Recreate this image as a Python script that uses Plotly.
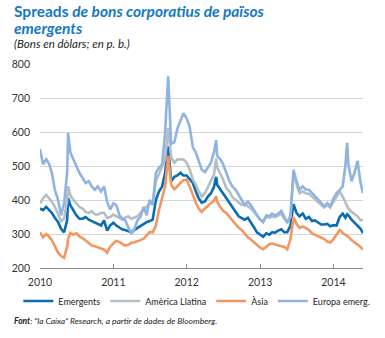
import plotly.graph_objects as go

# ---------------- data ----------------
base_dates = [f"{y}-{mo:02d}-{d:02d}" for y in range(2010, 2015)
              for mo in range(1, 13) for d in (1, 16)]
base_dates = [d for d in base_dates if d <= "2014-05-16"]
extra_dates = ["2010-05-21", "2012-05-27", "2014-03-10", "2014-05-28"]
dates = sorted(base_dates + extra_dates)

emergents = [
    375, 370, 380, 370, 362, 348, 335, 315, 305, 340, 406, 385, 368, 355, 345, 345, 350, 342, 338, 333, 328, 325, 340, 310, 325,
    333, 325, 318, 313, 312, 308, 305, 312, 318, 325, 330, 335, 338, 342, 400, 425, 440, 480, 558, 455, 468, 472, 480, 472,
    472, 462, 450, 425, 405, 392, 396, 410, 420, 438, 468, 445, 432, 420, 405, 392, 380, 367, 352, 347, 342, 348, 335, 320, 305,
    298, 292, 302, 298, 305, 304, 310, 314, 305, 305, 325, 388, 362, 352, 360, 345, 350, 338, 340, 335, 328, 328, 330, 323,
    326, 325, 350, 360, 348, 358, 355, 342, 332, 325, 315, 303,
]
america_llatina = [
    390, 405, 415, 405, 395, 380, 360, 338, 345, 400, 440, 415, 400, 390, 380, 375, 365, 362, 367, 358, 357, 362, 362, 347, 350,
    357, 352, 348, 342, 348, 352, 345, 348, 352, 362, 370, 380, 390, 392, 455, 475, 495, 520, 612, 525, 510, 519, 520, 519,
    510, 490, 460, 445, 425, 410, 420, 440, 460, 475, 522, 495, 478, 460, 435, 425, 408, 400, 392, 385, 388, 382, 375, 365, 352,
    342, 338, 350, 348, 352, 350, 355, 360, 345, 335, 350, 480, 445, 420, 425, 420, 418, 410, 402, 395, 385, 378, 385, 378,
    395, 410, 425, 410, 395, 385, 375, 365, 358, 352, 340, 343,
]
asia = [
    305, 290, 300, 292, 282, 262, 245, 235, 230, 262, 285, 303, 298, 302, 293, 288, 280, 272, 266, 264, 260, 256, 254, 245, 262,
    272, 280, 276, 270, 266, 268, 274, 276, 278, 282, 286, 295, 306, 305, 325, 370, 410, 440, 530, 445, 432, 442, 450, 458,
    460, 440, 412, 392, 375, 365, 375, 382, 390, 398, 411, 395, 380, 368, 362, 350, 342, 328, 318, 312, 300, 290, 284, 276, 270,
    260, 255, 262, 270, 272, 270, 268, 266, 262, 255, 285, 350, 330, 318, 322, 318, 312, 302, 298, 293, 288, 285, 278, 275,
    285, 298, 312, 303, 298, 296, 292, 282, 275, 270, 262, 254,
]
europa_emerg = [
    550, 505, 520, 505, 480, 430, 400, 355, 390, 480, 597, 540, 520, 500, 480, 465, 450, 455, 440, 430, 440, 425, 440, 395, 372,
    390, 385, 355, 345, 340, 320, 300, 315, 340, 350, 380, 355, 400, 385, 480, 495, 505, 600, 764, 565, 570, 610, 635, 655,
    640, 615, 555, 540, 515, 490, 482, 495, 510, 540, 576, 530, 520, 505, 478, 455, 440, 430, 415, 400, 385, 395, 385, 370, 355,
    342, 335, 355, 352, 360, 355, 360, 368, 350, 333, 355, 489, 455, 430, 440, 431, 430, 420, 411, 401, 391, 382, 391, 382,
    405, 420, 430, 440, 500, 568, 505, 455, 480, 515, 450, 420,
]

series_names = ["Emergents", "Amèrica Llatina", "Àsia", "Europa emerg."]
series_values = [emergents, america_llatina, asia, europa_emerg]
series_colors = ["#0a6cb4", "#b4bfc5", "#f4965f", "#8fb4e2"]

year_ticks = ["2010-01-01", "2011-01-01", "2012-01-01", "2013-01-01", "2014-01-01"]
year_labels = ["2010", "2011", "2012", "2013", "2014"]
y_ticks = [200, 300, 400, 500, 600, 700, 800]

# ---------------- layout geometry ----------------
W, H = 385, 338
L, R, T, B = 35, 22, 64, 70
PW, PH = W - L - R, H - T - B


def px_x(px):
    return (px - L) / PW


def px_y(py):
    return (H - B - py) / PH


FONT = "Lato"

fig = go.Figure()
for name, vals, col in zip(series_names, series_values, series_colors):
    fig.add_trace(go.Scatter(x=dates, y=vals, mode="lines", name=name,
                             line=dict(color=col, width=2.6)))

fig.update_layout(
    width=W, height=H,
    margin=dict(l=L, r=R, t=T, b=B),
    paper_bgcolor="white", plot_bgcolor="white",
    font=dict(family=FONT, color="#333333"),
    showlegend=True,
    legend=dict(orientation="h", x=px_x(13), xanchor="left",
                y=px_y(301), yanchor="middle",
                font=dict(size=9, color="#222222"),
                bgcolor="rgba(0,0,0,0)", traceorder="normal",
                itemwidth=30),
    xaxis=dict(type="date", range=["2010-01-01", "2014-05-28"],
               tickvals=year_ticks, ticktext=year_labels,
               showgrid=False, zeroline=False,
               showline=True, linecolor="#8c8c8c", linewidth=1,
               ticks="inside", ticklen=4, tickcolor="#8c8c8c",
               tickfont=dict(size=10.5, color="#333333"),
               ticklabelstandoff=4),
    yaxis=dict(range=[200, 800], tickvals=y_ticks,
               showgrid=True, gridcolor="#d6d6d6", gridwidth=1,
               zeroline=False, showline=False, ticks="",
               tickfont=dict(size=10.5, color="#333333"),
               ticklabelstandoff=9),
)

ann = [
    dict(text="<b>Spreads <i>de bons corporatius de països</i></b>", x=px_x(7), y=px_y(11),
         font=dict(size=15.5, color="#1479c4")),
    dict(text="<b><i>emergents</i></b>", x=px_x(7), y=px_y(28),
         font=dict(size=15.5, color="#1479c4")),
    dict(text="<i>(Bons en dòlars; en p. b.)</i>", x=px_x(7), y=px_y(44),
         font=dict(size=11.5, color="#222222")),
    dict(text="<b><i>Font</i></b><i>: “la Caixa” Research, a partir de dades de Bloomberg.</i>",
         x=px_x(7), y=px_y(321), font=dict(size=8.5, color="#222222")),
]
for a in ann:
    fig.add_annotation(xref="paper", yref="paper", xanchor="left", yanchor="middle",
                       showarrow=False, font_family=FONT, **{k: v for k, v in a.items()})

fig.write_html("out.html")
